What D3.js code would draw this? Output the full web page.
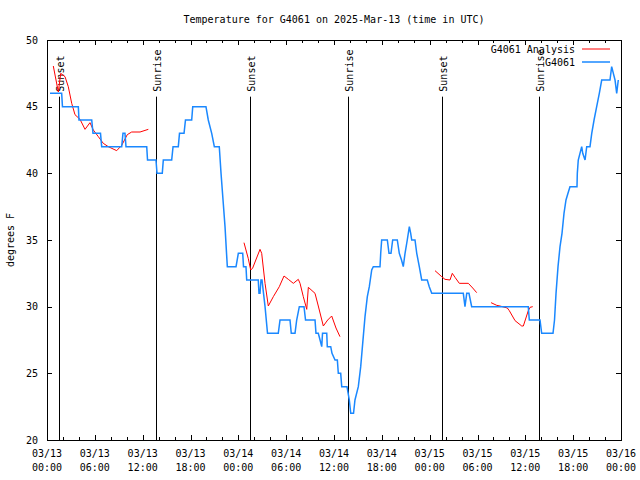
<!DOCTYPE html>
<html>
<head>
<meta charset="utf-8">
<script src="https://cdn.jsdelivr.net/npm/d3@7"></script>
<style>
  html, body { margin: 0; padding: 0; background: #fff; }
  svg { display: block; }
  text { font-family: "DejaVu Sans Mono", "Liberation Mono", monospace; font-size: 10px; fill: #000; }
</style>
</head>
<body>
<svg id="chart" width="640" height="480"></svg>
<script>
// ---------------- DATA (hours since 2025-03-13 00:00 UTC) ----------------
const title = "Temperature for G4061 on 2025-Mar-13 (time in UTC)";
const yLabel = "degrees F";
const seriesNames = ["G4061 Analysis", "G4061"];
const yTicks = [20, 25, 30, 35, 40, 45, 50];

const stationHours = [0.38,1.84,1.94,3.93,4.01,5.61,5.77,6.71,6.86,9.37,9.53,9.78,9.91,12.51,12.61,13.67,13.8,14.46,14.59,15.64,
  15.81,16.47,16.62,17.19,17.37,18.15,18.28,19.94,20.23,20.66,20.99,21.61,21.83,22.08,22.33,22.52,22.62,23.71,24.0,24.55,
  24.65,24.96,25.05,26.5,26.59,26.72,26.84,26.97,27.16,27.35,27.66,29.01,29.23,30.48,30.64,31.11,31.32,31.65,32.24,32.43,
  33.62,33.74,34.03,34.25,34.46,34.56,35.09,35.16,35.59,35.75,36.13,36.42,36.54,36.84,36.97,37.63,37.92,38.1,38.45,38.63,
  39.05,39.35,39.6,39.89,40.18,40.43,40.73,40.93,41.77,41.86,41.98,42.69,42.9,43.15,43.36,43.94,44.19,44.47,44.69,44.91,
  45.19,45.45,45.62,45.75,46.16,46.38,46.7,47.0,47.7,47.95,48.26,52.22,52.43,52.65,52.93,53.27,60.37,60.5,61.84,62.05,
  63.47,63.66,63.85,64.1,64.35,64.6,64.85,65.1,65.35,65.6,66.48,66.52,66.64,67.07,67.2,67.49,67.7,68.11,68.33,68.62,
  68.95,69.28,69.58,70.62,70.83,71.04,71.25,71.46,71.66];
const stationTemps = [46,46,45,45,44,44,43,43,42,42,43,43,42,42,41,41,40,40,41,41,
  42,42,43,43,44,44,45,45,44,43,42,42,40,38,36,34,33,33,34,34,
  33,33,32,32,31,31,32,32,31,30,28,28,29,29,28,28,29,30,30,29,
  29,28,28,27.5,27,28,28,27,27,26.5,26,26,25,25,24,24,23,22,22,23,
  24,25.5,27.25,29.25,30.75,31.5,32.75,33,33,34,35,35,34,34,35,35,34,33.5,33,34,
  35,36,35.5,35,35,34,33,32,32,31.5,31,31,30,31,31,30,30,29,29,28,
  28,29,31,33,34.5,35.5,37,38,38.5,39,39,40,41,42,41.5,41,42,42,43,44,
  45,46,47,47,48,47.5,47,46,47];

// Analysis series (null = gap)
const analysisHours = [0.79,1.42,1.72,2.26,2.67,3.1,3.51,4.14,4.77,5.39,5.81,6.44,7.06,7.69,8.74,9.37,10.07,10.62,11.67,12.71,
  null,
  24.71,25.25,25.55,25.8,26.72,26.93,27.35,27.76,28.39,29.14,29.73,30.27,30.9,31.52,31.74,32.15,32.58,32.78,33.62,34.03,
  34.66,35.21,35.71,36.25,36.75,
  null,
  48.67,49.51,49.92,50.55,50.84,51.18,51.72,52.85,53.4,53.9,
  null,
  55.7,56.41,56.82,57.74,57.99,58.71,59.55,59.75,60.37,60.59,60.93];
const analysisTemps = [48.05,46.1,47.5,47.25,46.5,45.25,44.4,44.05,43.3,43.8,43.25,42.75,42.25,42.0,41.7,42.1,42.9,43.1,43.1,43.3,
  null,
  34.8,33.6,32.75,32.9,34.3,34.0,31.75,30.05,30.75,31.5,32.3,32.05,31.75,32.05,31.75,30.75,29.8,31.45,31.0,30.05,
  28.55,29.0,29.3,28.4,27.75,
  null,
  32.7,32.25,32.05,32.0,32.5,32.2,31.75,31.75,31.4,31.05,
  null,
  30.3,30.1,30.05,29.9,29.7,28.95,28.55,28.55,29.7,29.95,30.0];

const sunsetHours = [1.45, 25.5, 49.5];
const sunriseHours = [13.72, 37.7, 61.72];

// ---------------- CHART ----------------
const start = Date.UTC(2025, 2, 13, 0, 0);
const toDate = h => new Date(start + h * 3600e3);

const m = { left: 47, right: 621, top: 40, bottom: 440 };
const svg = d3.select("#chart");

const x = d3.scaleUtc()
  .domain([new Date(Date.UTC(2025, 2, 13)), new Date(Date.UTC(2025, 2, 16))])
  .range([m.left, m.right]);
const y = d3.scaleLinear().domain([20, 50]).range([m.bottom, m.top]);

const red = "#ff0000", blue = "#1a88ff";

// title
svg.append("text").attr("x", (m.left + m.right) / 2).attr("y", 23)
  .attr("text-anchor", "middle").text(title);

// y label
svg.append("text").attr("transform", `translate(14,${(m.top + m.bottom) / 2}) rotate(-90)`)
  .attr("text-anchor", "middle").text(yLabel);

// axes
const majorT = d3.utcHour.every(6);
const minorT = d3.utcHour.every(2);

svg.append("g").attr("transform", `translate(0,${m.bottom})`)
  .call(d3.axisBottom(x).ticks(minorT).tickSize(-3).tickSizeOuter(0).tickFormat(""));
svg.append("g").attr("transform", `translate(0,${m.bottom})`)
  .call(d3.axisBottom(x).ticks(majorT).tickSize(-5).tickSizeOuter(0).tickFormat(""));
svg.append("g").attr("transform", `translate(0,${m.top})`)
  .call(d3.axisTop(x).ticks(minorT).tickSize(-3).tickSizeOuter(0).tickFormat(""));
svg.append("g").attr("transform", `translate(0,${m.top})`)
  .call(d3.axisTop(x).ticks(majorT).tickSize(-5).tickSizeOuter(0).tickFormat(""));
svg.append("g").attr("transform", `translate(${m.left},0)`)
  .call(d3.axisLeft(y).tickValues(yTicks).tickSize(-5).tickSizeOuter(0).tickPadding(9));
svg.append("g").attr("transform", `translate(${m.right},0)`)
  .call(d3.axisRight(y).tickValues(yTicks).tickSize(-5).tickSizeOuter(0).tickFormat(""));

svg.selectAll(".domain").remove();
svg.selectAll(".tick line").attr("stroke", "#000").attr("shape-rendering", "crispEdges");
svg.selectAll(".tick text").attr("font-family", null).attr("font-size", null).attr("fill", "#000");

// x tick labels (two lines)
const fDay = d3.utcFormat("%m/%d"), fTime = d3.utcFormat("%H:%M");
const xl = svg.append("g");
x.ticks(majorT).forEach(t => {
  const tx = xl.append("text").attr("x", x(t)).attr("y", 457).attr("text-anchor", "middle");
  tx.append("tspan").attr("x", x(t)).text(fDay(t));
  tx.append("tspan").attr("x", x(t)).attr("dy", 14).text(fTime(t));
});

// border
svg.append("rect").attr("x", m.left).attr("y", m.top)
  .attr("width", m.right - m.left).attr("height", m.bottom - m.top)
  .attr("fill", "none").attr("stroke", "#000").attr("shape-rendering", "crispEdges");

// sunrise/sunset markers
const events = sunsetHours.map(h => ({ h, label: "Sunset" }))
  .concat(sunriseHours.map(h => ({ h, label: "Sunrise" })));
const ev = svg.append("g");
events.forEach(e => {
  const ex = Math.round(x(toDate(e.h))) + 0.5;
  ev.append("line").attr("x1", ex).attr("x2", ex).attr("y1", y(45.75)).attr("y2", y(20))
    .attr("stroke", "#000").attr("stroke-width", 1);
  ev.append("text").attr("transform", `translate(${ex + 4.5},${y(45.75) - 5}) rotate(-90)`)
    .attr("text-anchor", "start").text(e.label);
});

// lines
const line = d3.line()
  .defined(d => d[1] != null)
  .x(d => x(toDate(d[0]))).y(d => y(d[1]));

const analysisData = analysisHours.map((h, i) => [h, analysisTemps[i]]);
const stationData = stationHours.map((h, i) => [h, stationTemps[i]]);

svg.append("path").datum(analysisData).attr("d", line)
  .attr("fill", "none").attr("stroke", red).attr("stroke-width", 1);
svg.append("path").datum(stationData).attr("d", line)
  .attr("fill", "none").attr("stroke", blue).attr("stroke-width", 1.5);

// legend
const lg = svg.append("g");
[[seriesNames[0], red, 49], [seriesNames[1], blue, 62]].forEach(([name, c, ly]) => {
  lg.append("text").attr("x", 575).attr("y", ly + 4).attr("text-anchor", "end").text(name);
  lg.append("line").attr("x1", 582).attr("x2", 610).attr("y1", ly).attr("y2", ly)
    .attr("stroke", c).attr("stroke-width", c === blue ? 1.5 : 1);
});
</script>
</body>
</html>
